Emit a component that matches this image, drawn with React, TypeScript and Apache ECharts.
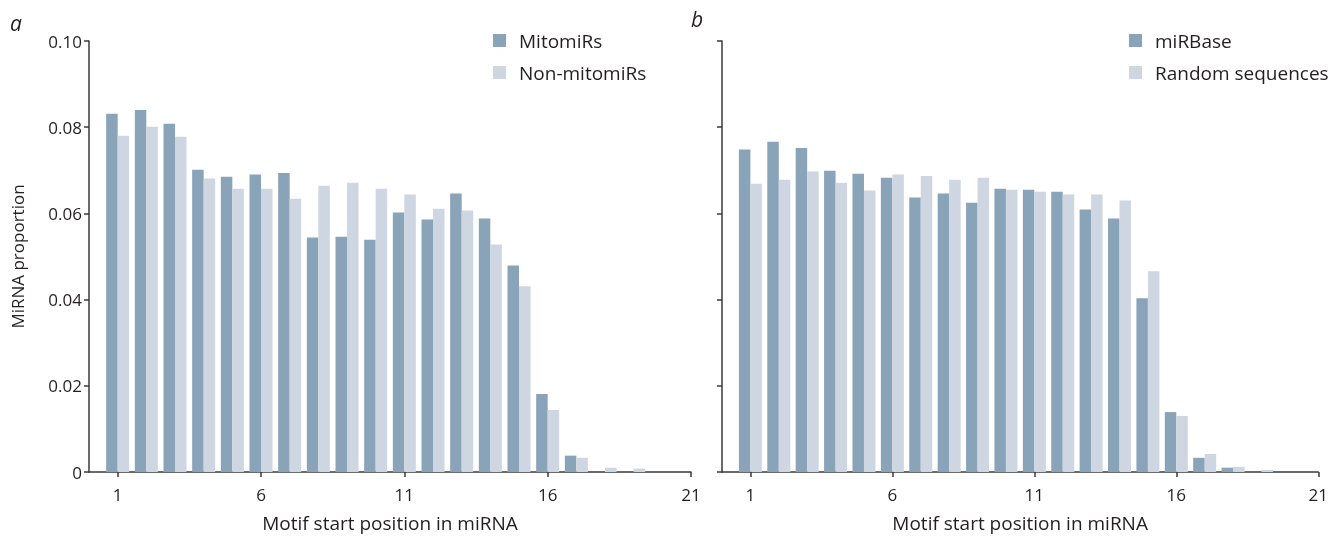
import React, { useEffect, useRef } from "react";
import * as echarts from "echarts";

const positions = [1, 2, 3, 4, 5, 6, 7, 8, 9, 10, 11, 12, 13, 14, 15, 16, 17, 18, 19];
const mitomiRs = [0.0831, 0.084, 0.0808, 0.0701, 0.0685, 0.069, 0.0694, 0.0544, 0.0546, 0.0539, 0.0602, 0.0586, 0.0646, 0.0588, 0.0479, 0.0181, 0.0038, 0, 0];
const nonMitomiRs = [0.078, 0.0801, 0.0778, 0.0681, 0.0657, 0.0657, 0.0634, 0.0664, 0.0671, 0.0657, 0.0644, 0.0611, 0.0607, 0.0528, 0.0431, 0.0144, 0.0033, 0.001, 0.0008];
const miRBase = [0.0748, 0.0766, 0.0752, 0.0699, 0.0692, 0.0683, 0.0637, 0.0646, 0.0625, 0.0657, 0.0655, 0.065, 0.0609, 0.0588, 0.0403, 0.0139, 0.0033, 0.001, 0];
const randomSeq = [0.0669, 0.0678, 0.0697, 0.0671, 0.0653, 0.069, 0.0687, 0.0678, 0.0683, 0.0655, 0.065, 0.0644, 0.0644, 0.063, 0.0466, 0.013, 0.0042, 0.0012, 0.0005];
const xTicks = [1, 6, 11, 16, 21];
const yTicks = [0, 0.02, 0.04, 0.06, 0.08, 0.1];

const DARK = "#89a3b9";
const LIGHT = "#ced6e1";
const TEXT = "#231f20";
const AXIS = "#3a3a3a";
const FONT = "Open Sans";

export default function App() {
  const ref = useRef<HTMLDivElement>(null);
  useEffect(() => {
    if (!ref.current) return;
    const chart = echarts.init(ref.current, null, { renderer: "svg" });
    const pair = (xs: number[], ys: number[]) => xs.map((x, i) => [x, ys[i]]);
    const xAxis = (idx: number) => ({
      type: "value",
      gridIndex: idx,
      min: 0,
      max: 21,
      splitLine: { show: false },
      axisLine: { show: true, lineStyle: { color: AXIS, width: 1.5 } },
      axisTick: { show: true, length: 5, customValues: xTicks, lineStyle: { color: AXIS, width: 1.5 } },
      axisLabel: { customValues: xTicks, margin: 14, color: TEXT, fontFamily: FONT, fontSize: 17 },
      name: "Motif start position in miRNA",
      nameLocation: "middle",
      nameGap: 41,
      nameTextStyle: { color: TEXT, fontFamily: FONT, fontSize: 19 },
    });
    const yAxis = (idx: number, labels: boolean) => ({
      type: "value",
      gridIndex: idx,
      min: 0,
      max: 0.1,
      interval: 0.02,
      splitLine: { show: false },
      axisLine: { show: true, lineStyle: { color: AXIS, width: 1.5 } },
      axisTick: { show: true, length: 5, customValues: yTicks, lineStyle: { color: AXIS, width: 1.5 } },
      axisLabel: {
        show: labels,
        margin: 7,
        color: TEXT,
        fontFamily: FONT,
        fontSize: 17,
        formatter: (v: number) => (v === 0 ? "0" : v.toFixed(2)),
      },
      name: labels ? "MiRNA proportion" : "",
      nameLocation: "middle",
      nameGap: 63,
      nameTextStyle: { color: TEXT, fontFamily: FONT, fontSize: 17 },
    });
    const bar = (name: string, idx: number, data: number[][], color: string) => ({
      type: "bar",
      name,
      xAxisIndex: idx,
      yAxisIndex: idx,
      data,
      barWidth: 11.5,
      barGap: "0%",
      itemStyle: { color },
    });
    const legend = (left: number, names: string[]) => ({
      left,
      top: 26,
      orient: "vertical",
      icon: "rect",
      itemWidth: 13,
      itemHeight: 13,
      itemGap: 13,
      data: names,
      textStyle: { color: TEXT, fontFamily: FONT, fontSize: 19, lineHeight: 19, padding: [0, 0, 0, 8] },
    });
    chart.setOption({
      animation: false,
      grid: [
        { left: 89, top: 41, width: 602, height: 432.5 },
        { left: 722, top: 41, width: 603, height: 432.5 },
      ],
      xAxis: [xAxis(0), xAxis(1)],
      yAxis: [yAxis(0, true), yAxis(1, false)],
      legend: [legend(488, ["MitomiRs", "Non-mitomiRs"]), legend(1124, ["miRBase", "Random sequences"])],
      series: [
        bar("MitomiRs", 0, pair(positions, mitomiRs), DARK),
        bar("Non-mitomiRs", 0, pair(positions, nonMitomiRs), LIGHT),
        bar("miRBase", 1, pair(positions, miRBase), DARK),
        bar("Random sequences", 1, pair(positions, randomSeq), LIGHT),
      ],
      graphic: [
        { type: "text", left: 10, top: 12, style: { text: "a", fill: TEXT, font: "italic 21px 'Open Sans'" } },
        { type: "text", left: 691, top: 8, style: { text: "b", fill: TEXT, font: "italic 21px 'Open Sans'" } },
      ],
    });
    return () => chart.dispose();
  }, []);
  return <div ref={ref} style={{ position: "fixed", left: 0, top: 0, width: 1331, height: 537 }} />;
}
